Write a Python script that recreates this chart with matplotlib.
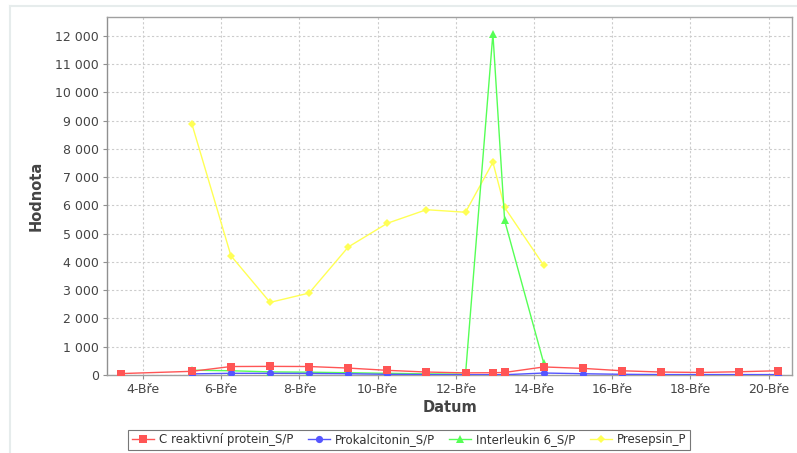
import matplotlib
matplotlib.use("Agg")
import matplotlib.pyplot as plt
from matplotlib.ticker import FuncFormatter, MultipleLocator
from matplotlib.lines import Line2D

# Measurement times as day-of-month (fraction = time of day), March
crp_days = [3.43, 5.25, 6.25, 7.25, 8.25, 9.25, 10.25, 11.25, 12.25, 12.95, 13.25,
            14.25, 15.25, 16.25, 17.25, 18.25, 19.25, 20.25]
crp_vals = [50, 130, 300, 305, 300, 245, 165, 105, 75, 80, 90,
            285, 235, 150, 105, 90, 115, 150]

pct_days = [5.25, 6.25, 7.25, 8.25, 9.25, 10.25, 11.25, 12.25, 12.95, 13.25,
            14.25, 15.25, 16.25, 17.25, 18.25, 19.25, 20.25]
pct_vals = [40, 60, 60, 55, 45, 25, 15, 10, 10, 10,
            70, 45, 25, 15, 15, 15, 15]

il6_days = [5.25, 6.25, 7.25, 8.25, 9.25, 10.25, 11.25, 12.25, 12.95, 13.25, 14.25]
il6_vals = [170, 150, 110, 100, 80, 60, 40, 30, 12080, 5470, 420]

pse_days = [5.25, 6.25, 7.25, 8.25, 9.25, 10.25, 11.25, 12.25, 12.95, 13.25, 14.25]
pse_vals = [8890, 4220, 2570, 2900, 4530, 5370, 5850, 5760, 7530, 5930, 3880]

series_names = ["C reaktivní protein_S/P", "Prokalcitonin_S/P",
                "Interleukin 6_S/P", "Presepsin_P"]

tick_days = [4, 6, 8, 10, 12, 14, 16, 18, 20]
tick_labels = ["4-Bře", "6-Bře", "8-Bře", "10-Bře", "12-Bře",
               "14-Bře", "16-Bře", "18-Bře", "20-Bře"]

W, H = 797, 453
fig = plt.figure(figsize=(W / 100, H / 100), dpi=100)
fig.patch.set_facecolor("white")

# light panel border (top and left)
fig.add_artist(Line2D([10 / W, 1.0], [1 - 6 / H, 1 - 6 / H], transform=fig.transFigure,
                      color="#e6ecec", lw=1.5))
fig.add_artist(Line2D([10 / W, 10 / W], [0, 1 - 6 / H], transform=fig.transFigure,
                      color="#e6ecec", lw=1.5))

left, right, top, bottom = 107, 792, 17, 375
ax = fig.add_axes([left / W, 1 - bottom / H, (right - left) / W, (bottom - top) / H])
ax.set_facecolor("white")

styles = [
    (crp_days, crp_vals, "#ff5555", "s", 5.2, 4),
    (pct_days, pct_vals, "#5555ff", "o", 5.2, 3),
    (il6_days, il6_vals, "#55ff55", "^", 5.6, 2),
    (pse_days, pse_vals, "#ffff55", "D", 4.5, 1),
]
handles = []
for (xs, ys, col, mk, ms, z), name in zip(styles, series_names):
    (h,) = ax.plot(xs, ys, color=col, lw=1.0, marker=mk, markersize=ms,
                   markeredgewidth=0, zorder=z + 2, label=name)
    handles.append(h)

ax.set_xlim(3.08, 20.60)
ax.set_ylim(0, 12670)
ax.yaxis.set_major_locator(MultipleLocator(1000))
ax.yaxis.set_major_formatter(FuncFormatter(lambda v, p: f"{int(v):,}".replace(",", " ")))
ax.set_xticks(tick_days)
ax.set_xticklabels(tick_labels)

ax.grid(True, color="#cccccc", linestyle=(0, (2, 2)), lw=0.8)
ax.set_axisbelow(True)
for sp in ax.spines.values():
    sp.set_color("#a0a0a0")
    sp.set_linewidth(1.0)
ax.spines["left"].set_color("#909090")
ax.tick_params(axis="both", colors="#909090", labelcolor="#444444",
               labelsize=9, length=3, width=0.8, pad=3)

ax.set_xlabel("Datum", fontsize=10.5, fontweight="bold", color="#444444", labelpad=3)
ax.set_ylabel("Hodnota", fontsize=10.5, fontweight="bold", color="#444444", labelpad=8)

leg = fig.legend(handles=handles, loc="center", bbox_to_anchor=(409 / W, 1 - 440 / H),
                 ncol=4, fontsize=8.5, frameon=True, fancybox=False, handlelength=1.9,
                 handletextpad=0.4, columnspacing=1.2, borderpad=0.3, labelcolor="#333333")
leg.get_frame().set_edgecolor("#555555")
leg.get_frame().set_linewidth(0.8)

fig.savefig("out.png", dpi=100, facecolor="white")
